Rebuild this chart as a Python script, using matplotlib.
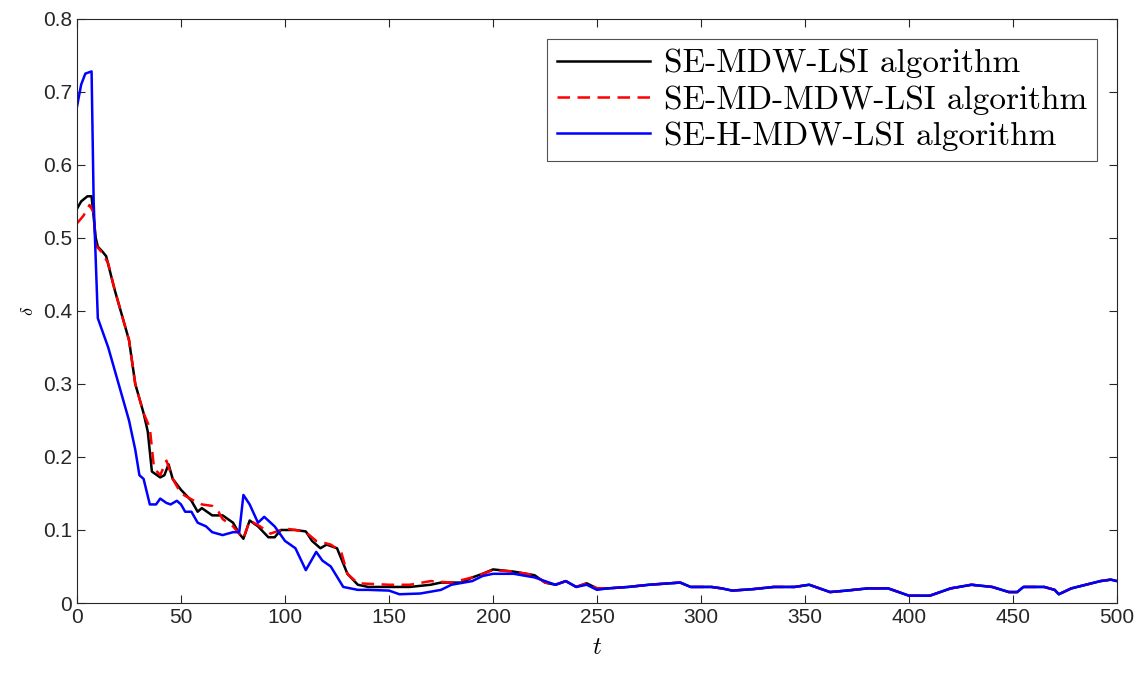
import matplotlib
matplotlib.use("Agg")
import matplotlib.pyplot as plt

# --- Data ---
t_black = [0, 2, 5, 7, 9, 10, 12, 14, 18, 22, 25, 28, 32, 34, 36, 40, 42, 44, 46, 50,
           55, 58, 60, 65, 70, 75, 78, 80, 83, 87, 92, 95, 98, 105, 110, 113, 117, 120,
           125, 130, 135, 140, 150, 160, 170, 175, 185, 190, 195, 200, 210, 220, 225,
           230, 235, 240, 245, 250]
v_black = [0.54, 0.55, 0.557, 0.557, 0.50, 0.488, 0.482, 0.475, 0.43, 0.39, 0.36, 0.30,
           0.26, 0.235, 0.18, 0.172, 0.175, 0.19, 0.17, 0.155, 0.14, 0.125, 0.13, 0.12,
           0.12, 0.11, 0.095, 0.088, 0.113, 0.105, 0.09, 0.09, 0.10, 0.10, 0.098, 0.085,
           0.075, 0.08, 0.075, 0.04, 0.025, 0.022, 0.022, 0.022, 0.025, 0.028, 0.028,
           0.035, 0.04, 0.046, 0.043, 0.038, 0.028, 0.025, 0.03, 0.022, 0.027, 0.02]

t_red = [0, 3, 6, 8, 9, 12, 15, 18, 22, 25, 28, 32, 35, 37, 40, 43, 46, 50, 55, 60, 65,
         68, 70, 75, 80, 83, 88, 93, 100, 105, 110, 115, 118, 122, 127, 130, 135, 150,
         160, 170, 180, 190, 200, 210, 220, 225, 230, 235, 240, 245, 250]
v_red = [0.52, 0.53, 0.545, 0.535, 0.49, 0.48, 0.465, 0.43, 0.39, 0.36, 0.30, 0.26, 0.24,
         0.185, 0.175, 0.195, 0.17, 0.15, 0.142, 0.135, 0.133, 0.125, 0.115, 0.105, 0.088,
         0.113, 0.105, 0.095, 0.102, 0.10, 0.097, 0.085, 0.083, 0.08, 0.07, 0.04, 0.027,
         0.025, 0.025, 0.03, 0.028, 0.035, 0.045, 0.043, 0.038, 0.028, 0.025, 0.03,
         0.022, 0.027, 0.02]

t_blue = [0, 2, 4, 7, 8, 10, 15, 20, 25, 28, 30, 32, 35, 38, 40, 43, 45, 48, 50, 52, 55,
          58, 62, 65, 70, 75, 78, 80, 83, 87, 90, 95, 100, 105, 110, 115, 118, 122, 128,
          135, 140, 150, 155, 165, 175, 180, 190, 195, 200, 210, 220, 225, 230, 235,
          240, 245, 250]
v_blue = [0.68, 0.71, 0.725, 0.728, 0.55, 0.39, 0.35, 0.30, 0.25, 0.21, 0.175, 0.17,
          0.135, 0.135, 0.143, 0.137, 0.135, 0.14, 0.135, 0.125, 0.125, 0.11, 0.105,
          0.097, 0.093, 0.097, 0.097, 0.148, 0.135, 0.11, 0.118, 0.105, 0.085, 0.075,
          0.045, 0.07, 0.058, 0.05, 0.022, 0.018, 0.018, 0.017, 0.012, 0.013, 0.018,
          0.025, 0.03, 0.037, 0.04, 0.04, 0.035, 0.03, 0.025, 0.03, 0.022, 0.025, 0.018]

# after t=250 the three curves overlap
t_tail = [255, 265, 275, 290, 295, 305, 310, 315, 325, 335, 345, 352, 357, 362, 370,
          380, 390, 398, 400, 410, 420, 430, 440, 448, 452, 455, 465, 470, 472, 478,
          485, 492, 497, 500]
v_tail = [0.02, 0.022, 0.025, 0.028, 0.022, 0.022, 0.02, 0.017, 0.019, 0.022, 0.022,
          0.025, 0.02, 0.015, 0.017, 0.02, 0.02, 0.012, 0.01, 0.01, 0.02, 0.025, 0.022,
          0.015, 0.015, 0.022, 0.022, 0.018, 0.012, 0.02, 0.025, 0.03, 0.032, 0.03]

labels = ["SE-MDW-LSI algorithm", "SE-MD-MDW-LSI algorithm", "SE-H-MDW-LSI algorithm"]

# --- Plot ---
plt.rcParams["font.family"] = ["Liberation Sans Narrow", "Liberation Sans", "DejaVu Sans"]
plt.rcParams["mathtext.fontset"] = "cm"

fig = plt.figure(figsize=(11.41, 6.73), dpi=100)
ax = fig.add_axes([0.0675, 0.104, 0.9115, 0.868])

ax.plot(t_black + t_tail, v_black + v_tail, color="black", lw=1.8, label=labels[0])
ax.plot(t_red + t_tail, v_red + v_tail, color="red", lw=1.8, ls=(0, (5, 3)), label=labels[1])
ax.plot(t_blue + t_tail, v_blue + v_tail, color="blue", lw=1.8, label=labels[2])

ax.set_xlim(0, 500)
ax.set_ylim(0, 0.8)
ax.set_xticks(range(0, 501, 50))
ax.set_yticks([0, 0.1, 0.2, 0.3, 0.4, 0.5, 0.6, 0.7, 0.8])
ax.set_yticklabels(["0", "0.1", "0.2", "0.3", "0.4", "0.5", "0.6", "0.7", "0.8"])
ax.tick_params(direction="in", top=True, right=True, labelsize=15, colors="#262626",
               length=6, width=0.8)
for s in ax.spines.values():
    s.set_color("#262626")
    s.set_linewidth(0.8)

ax.set_xlabel("$t$", fontsize=18, labelpad=6)
ax.set_ylabel(r"$\delta$", fontsize=13, labelpad=4)

leg = ax.legend(loc="upper right", prop={"family": "cmr10", "size": 24},
                fancybox=False, edgecolor="#262626", handlelength=2.8,
                borderpad=0.3, labelspacing=0.2, handletextpad=0.4,
                borderaxespad=0.6)
leg.get_frame().set_linewidth(0.8)

fig.savefig("out.png", dpi=100)
